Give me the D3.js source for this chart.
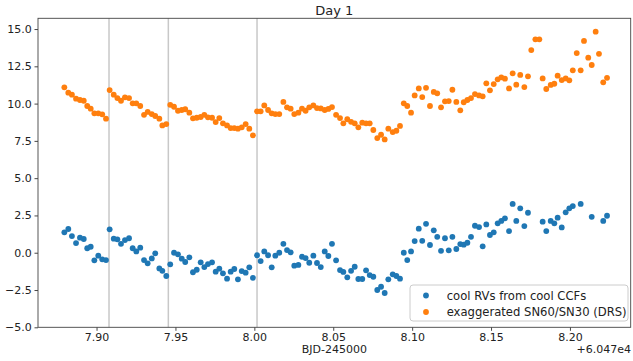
<!DOCTYPE html>
<html>
<head>
<meta charset="utf-8">
<script src="https://cdn.jsdelivr.net/npm/d3@7"></script>
<style>
  html, body { margin: 0; padding: 0; background: #fff; }
  svg { display: block; font-family: "DejaVu Sans", sans-serif; }
</style>
</head>
<body>
<svg id="chart" width="633" height="361"></svg>
<script>
// Time (BJD-245000, relative to the +6.047e4 offset shown on the axis)
const times = [
  7.8796, 7.8821, 7.8844, 7.8870, 7.8895, 7.8919, 7.8941, 7.8963, 7.8986, 7.9011, 7.9036, 7.9060,
  7.9083, 7.9109, 7.9132, 7.9155, 7.9180, 7.9206, 7.9229, 7.9252, 7.9277, 7.9301, 7.9324, 7.9350, 7.9372, 7.9398, 7.9417, 7.9442,
  7.9467, 7.9491, 7.9516, 7.9540, 7.9562, 7.9588, 7.9611, 7.9635, 7.9660, 7.9683, 7.9706, 7.9732, 7.9755, 7.9778, 7.9801, 7.9827,
  7.9850, 7.9873, 7.9896, 7.9920, 7.9945, 7.9968, 7.9991,
  8.0017, 8.0040, 8.0063, 8.0087, 8.0110, 8.0133, 8.0158, 8.0184, 8.0207, 8.0230, 8.0253, 8.0279, 8.0302, 8.0325, 8.0348, 8.0374,
  8.0397, 8.0421, 8.0446, 8.0469, 8.0492, 8.0518, 8.0543, 8.0564, 8.0589, 8.0613, 8.0636, 8.0659, 8.0684, 8.0708, 8.0731, 8.0754,
  8.0779, 8.0803, 8.0826, 8.0849, 8.0877, 8.0900, 8.0923, 8.0947, 8.0969, 8.0993, 8.1016, 8.1042, 8.1064, 8.1088, 8.1113, 8.1137,
  8.1159, 8.1183, 8.1208, 8.1232, 8.1255, 8.1280, 8.1305, 8.1327, 8.1350, 8.1373, 8.1398, 8.1424, 8.1447, 8.1470, 8.1493, 8.1517,
  8.1542, 8.1565, 8.1588, 8.1614, 8.1637, 8.1660, 8.1685, 8.1711, 8.1734, 8.1755, 8.1781, 8.1806, 8.1827, 8.1850, 8.1878, 8.1901,
  8.1922, 8.1948, 8.1973, 8.1996, 8.2018, 8.2043, 8.2068, 8.2089, 8.2116, 8.2138, 8.2163, 8.2184, 8.2211, 8.2235
];

// cool RVs from cool CCFs (null = not plotted)
const coolRVs = [
  1.37, 1.59, 1.12, 0.65, 1.01, 0.92, 0.30, 0.40, -0.51, -0.20, -0.44, -0.49,
  1.57, 0.94, 0.90, 0.60, 0.85, 0.97, 0.30, 0.09, 0.34, -0.49, -0.71, -0.38, -0.04, -1.05, -1.21, -1.56,
  -0.78, 0.00, -0.11, -0.40, -0.62, -0.31, -1.31, -1.14, -0.64, -0.96, -0.76, -0.64, -1.27, -1.07, -1.38, -1.74,
  -1.27, -1.09, -1.78, -1.23, -1.34, -0.98, -1.68,
  -0.17, -0.56, 0.09, -0.17, -0.98, -0.20, 0.00, 0.60, 0.18, 0.03, -0.87, -0.82, -0.27, -0.36, -0.67, -0.20,
  -0.69, -0.96, 0.09, -0.22, 0.60, -0.51, -1.16, -1.29, -1.65, -1.21, -0.94, -1.76, -1.76, -1.18, -1.50, -1.61,
  -2.50, -2.28, -2.70, -1.78, -1.45, -1.56, -1.74, 0.00, -0.49, 0.09, 0.78, 1.61, 0.80, 1.94, 0.52, 1.50,
  1.07, 0.13, 0.97, 0.16, 1.07, 0.25, 0.58, 0.54, 0.67, 1.07, 1.81, 1.72, 0.43, 1.90, 1.19, 1.37,
  1.97, 2.13, 2.31, 1.45, 3.27, 2.13, 2.98, 1.79, 2.68, null, null, null, 2.08, 1.45, 2.13, 1.97,
  2.35, 1.70, 2.71, 2.98, 3.13, null, 3.27, null, null, 2.41, null, null, 2.13, 2.48
];

// exaggerated SN60/SN30 (DRS)
const snRatio = [
  11.09, 10.73, 10.60, 10.33, 10.24, 10.19, 9.84, 9.66, 9.35, 9.35, 9.28, 8.99,
  10.91, 10.60, 10.37, 10.19, 10.42, 10.37, 10.02, 10.02, 9.84, 9.25, 9.44, 9.30, 9.17, 8.99, 8.54, 8.63,
  9.92, 9.79, 9.52, 9.57, 9.62, 9.39, 9.01, 9.05, 9.10, 9.25, 9.08, 9.05, 8.76, 9.03, 8.68, 8.54,
  8.36, 8.36, 8.32, 8.41, 8.63, 8.32, 7.87,
  9.48, 9.48, 9.88, 9.57, 9.35, 9.30, 9.30, 10.11, 9.75, 9.66, 9.30, 9.39, 9.66, 9.52, 9.75, 9.88,
  9.70, 9.68, 9.57, 9.64, 9.77, 9.25, 9.03, 8.68, 8.95, 8.78, 8.68, 8.41, 8.72, 8.68, 8.68, 8.23,
  7.69, 7.91, 7.60, 8.32, 8.09, 8.18, 8.50, 10.02, 9.84, 9.39, 10.55, 11.02, 10.44, 11.06, 9.84, 10.78,
  10.69, 9.75, 10.15, 10.17, 10.93, 10.11, 9.55, 10.09, 10.24, 10.37, 10.64, 10.55, 10.49, 11.36, 10.89, 11.31,
  11.63, 11.76, 11.67, 11.02, 12.03, 11.27, 11.92, 11.11, 11.83, 13.59, 14.31, 14.31, 11.69, 10.98, 11.25, 11.33,
  11.87, 11.58, 11.69, 11.56, 12.23, 13.39, 12.23, 14.20, 13.08, 12.59, 14.82, 13.34, 11.43, 11.73
];

const vlines = [7.9079, 7.9455, 8.0017];
const xTicks = [7.90, 7.95, 8.00, 8.05, 8.10, 8.15, 8.20];
const yTicks = [-5.0, -2.5, 0.0, 2.5, 5.0, 7.5, 10.0, 12.5, 15.0];
const seriesNames = ["cool RVs from cool CCFs", "exaggerated SN60/SN30 (DRS)"];
const titleText = "Day 1";
const xLabelText = "BJD-245000";
const xOffsetText = "+6.047e4";

const colors = ["#1f77b4", "#ff7f0e"];
const W = 633, H = 361;
const m = { left: 38, right: 2.3, top: 18.3, bottom: 33.7 };
const pw = W - m.left - m.right, ph = H - m.top - m.bottom;

const svg = d3.select("#chart");
const g = svg.append("g").attr("transform", `translate(${m.left},${m.top})`);

const x = d3.scaleLinear().domain([7.8629, 8.2385]).range([0, pw]);
const y = d3.scaleLinear().domain([-5, 15.72]).range([ph, 0]);

// vertical reference lines
g.selectAll("line.vl").data(vlines).join("line")
  .attr("class", "vl")
  .attr("x1", d => x(d)).attr("x2", d => x(d))
  .attr("y1", 0).attr("y2", ph)
  .attr("stroke", "#c8c8c8").attr("stroke-width", 1.5);

// scatter series
const series = [coolRVs, snRatio];
series.forEach((vals, si) => {
  const pts = times.map((t, i) => ({ t, v: vals[i] })).filter(d => d.v !== null);
  g.append("g").selectAll("circle").data(pts).join("circle")
    .attr("cx", d => x(d.t)).attr("cy", d => y(d.v))
    .attr("r", 2.9).attr("fill", colors[si]);
});

// axes
const xAxis = d3.axisBottom(x).tickValues(xTicks).tickFormat(d3.format(".2f"))
  .tickSize(3.5).tickPadding(2.5);
const yAxis = d3.axisLeft(y).tickValues(yTicks).tickFormat(d3.format(".1f"))
  .tickSize(3.5).tickPadding(2.8);

const gx = g.append("g").attr("transform", `translate(0,${ph})`).call(xAxis);
const gy = g.append("g").call(yAxis);
[gx, gy].forEach(a => {
  a.select(".domain").remove();
  a.selectAll(".tick line").attr("stroke", "#333").attr("stroke-width", 0.9);
  a.selectAll(".tick text").attr("fill", "#222").style("font-size", "11px")
    .style("font-family", "'DejaVu Sans', sans-serif");
});

// frame (spines)
g.append("rect").attr("x", 0).attr("y", 0).attr("width", pw).attr("height", ph)
  .attr("fill", "none").attr("stroke", "#444").attr("stroke-width", 0.9);

// title
svg.append("text").attr("x", m.left + pw / 2).attr("y", 15)
  .attr("text-anchor", "middle").attr("fill", "#222").style("font-size", "13px")
  .text(titleText);

// x label and offset
svg.append("text").attr("x", m.left + pw / 2).attr("y", 353)
  .attr("text-anchor", "middle").attr("fill", "#222").style("font-size", "11px")
  .text(xLabelText);
svg.append("text").attr("x", W - 2).attr("y", 353)
  .attr("text-anchor", "end").attr("fill", "#222").style("font-size", "11px")
  .text(xOffsetText);

// legend
const lg = svg.append("g").attr("transform", "translate(410,285)");
lg.append("rect").attr("x", 0).attr("y", 0).attr("width", 218).attr("height", 36)
  .attr("rx", 3).attr("fill", "#fff").attr("fill-opacity", 0.8)
  .attr("stroke", "#cccccc").attr("stroke-width", 1);
seriesNames.forEach((name, i) => {
  const yy = 10.5 + i * 16.5;
  lg.append("circle").attr("cx", 16).attr("cy", yy).attr("r", 2.9).attr("fill", colors[i]);
  lg.append("text").attr("x", 36.7).attr("y", yy).attr("dy", "0.35em")
    .attr("fill", "#222").style("font-size", "11.6px").text(name);
});
</script>
</body>
</html>
